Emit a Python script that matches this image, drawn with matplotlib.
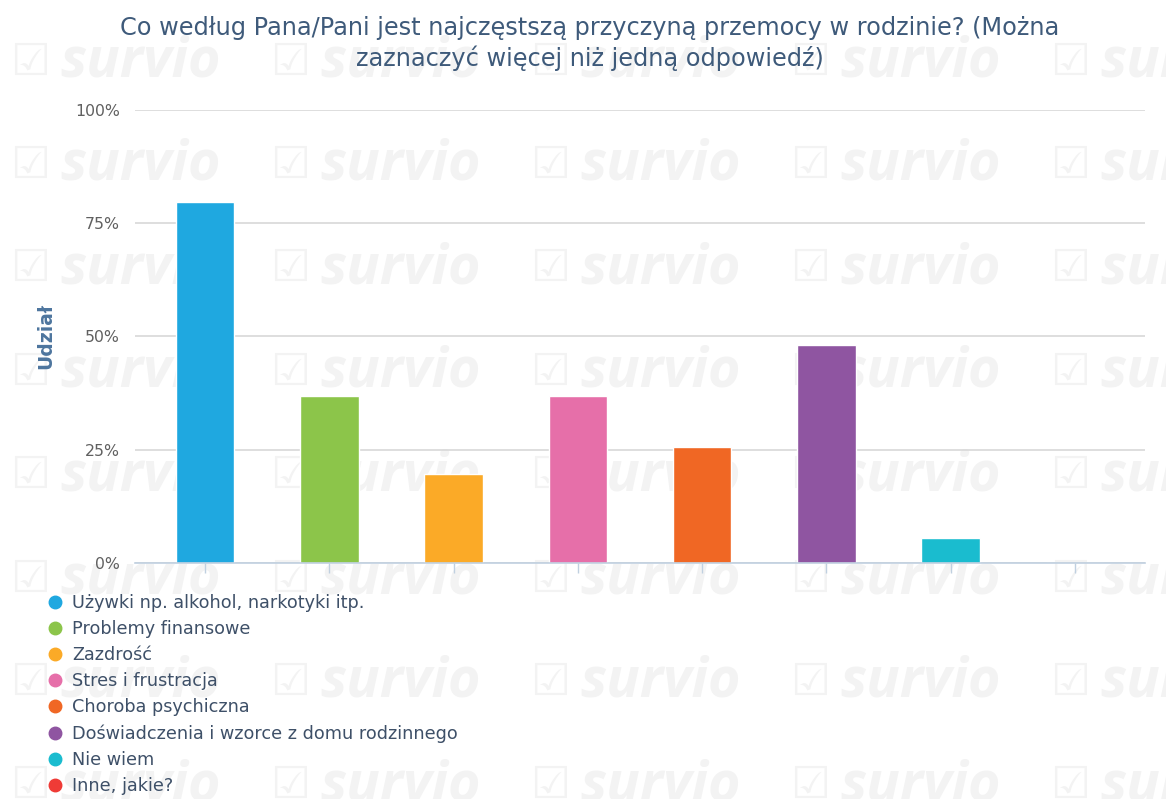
import matplotlib.pyplot as plt
from matplotlib.lines import Line2D

# Chart data
categories = [
    "Używki np. alkohol, narkotyki itp.",
    "Problemy finansowe",
    "Zazdrość",
    "Stres i frustracja",
    "Choroba psychiczna",
    "Doświadczenia i wzorce z domu rodzinnego",
    "Nie wiem",
    "Inne, jakie?",
]
shares = [79.6, 36.8, 19.6, 36.8, 25.5, 48.1, 5.6, 0.0]
colors = ["#1fa8e0", "#8cc54a", "#fbaa27", "#e66fa9",
          "#f06724", "#8f55a1", "#1abccf", "#ef3b36"]
y_ticks = [0, 25, 50, 75, 100]
y_tick_labels = ["0%", "25%", "50%", "75%", "100%"]
title_lines = ["Co według Pana/Pani jest najczęstszą przyczyną przemocy w rodzinie? (Można",
               "zaznaczyć więcej niż jedną odpowiedź)"]
y_label = "Udział"

W, H = 1166, 799
fig = plt.figure(figsize=(W / 100, H / 100), dpi=100)

# faint "survio" watermark tiles in the background
for row in range(8):
    for col in range(5):
        x0 = 10 + 260 * col
        yc = 62 + 103.4 * row
        fig.text(x0 / W, 1 - yc / H, "\u2611", fontsize=32, color="#f3f3f3",
                 ha="left", va="center", family="DejaVu Sans", zorder=-10)
        fig.text((x0 + 50) / W, 1 - yc / H, "survio", fontsize=40, color="#f3f3f3",
                 ha="left", va="center", family=["Open Sans", "DejaVu Sans"],
                 fontweight="bold", fontstyle="italic", zorder=-10)

ax = fig.add_axes([135 / W, 1 - 563 / H, (1145 - 135) / W, (563 - 109.5) / H])
ax.patch.set_alpha(0)
ax.set_zorder(1)

x = list(range(len(categories)))
ax.bar(x, shares, width=0.47, color=colors, edgecolor="white", linewidth=1, zorder=3)

ax.set_xlim(-0.565, len(categories) - 1 + 0.565)
ax.set_ylim(0, 100)
ax.set_yticks(y_ticks)
ax.set_yticklabels(y_tick_labels)
ax.yaxis.grid(True, color="#d8d8d8", linewidth=1.2, zorder=1)
ax.set_xticks(x)
ax.set_xticklabels([])
ax.tick_params(axis="x", length=7, color="#c0d0e0", width=1)
ax.tick_params(axis="y", length=0, pad=11, labelsize=11.3, labelcolor="#606060")

for side in ["top", "right", "left"]:
    ax.spines[side].set_visible(False)
ax.spines["bottom"].set_color("#c0d0e0")
ax.spines["bottom"].set_linewidth(1.2)
ax.spines["bottom"].set_zorder(4)

fig.text(46 / W, 1 - 336 / H, y_label, rotation=90, ha="center", va="center",
         fontsize=13.5, fontweight="bold", color="#4d759e")

fig.text(590 / W, 1 - 35 / H, title_lines[0], ha="center", va="baseline",
         fontsize=17.3, color="#3e5a7a")
fig.text(590 / W, 1 - 66 / H, title_lines[1], ha="center", va="baseline",
         fontsize=17.3, color="#3e5a7a")

handles = [Line2D([], [], marker="o", linestyle="none", markersize=9,
                  markerfacecolor=c, markeredgecolor=c) for c in colors]
fig.legend(handles, categories, loc="upper left", bbox_to_anchor=(46 / W, 1 - 594 / H),
           frameon=False, fontsize=12.7, labelcolor="#3e5068", handletextpad=0.5,
           labelspacing=0.46, borderpad=0, handlelength=1.0, borderaxespad=0)

fig.savefig("out.png", dpi=100)
